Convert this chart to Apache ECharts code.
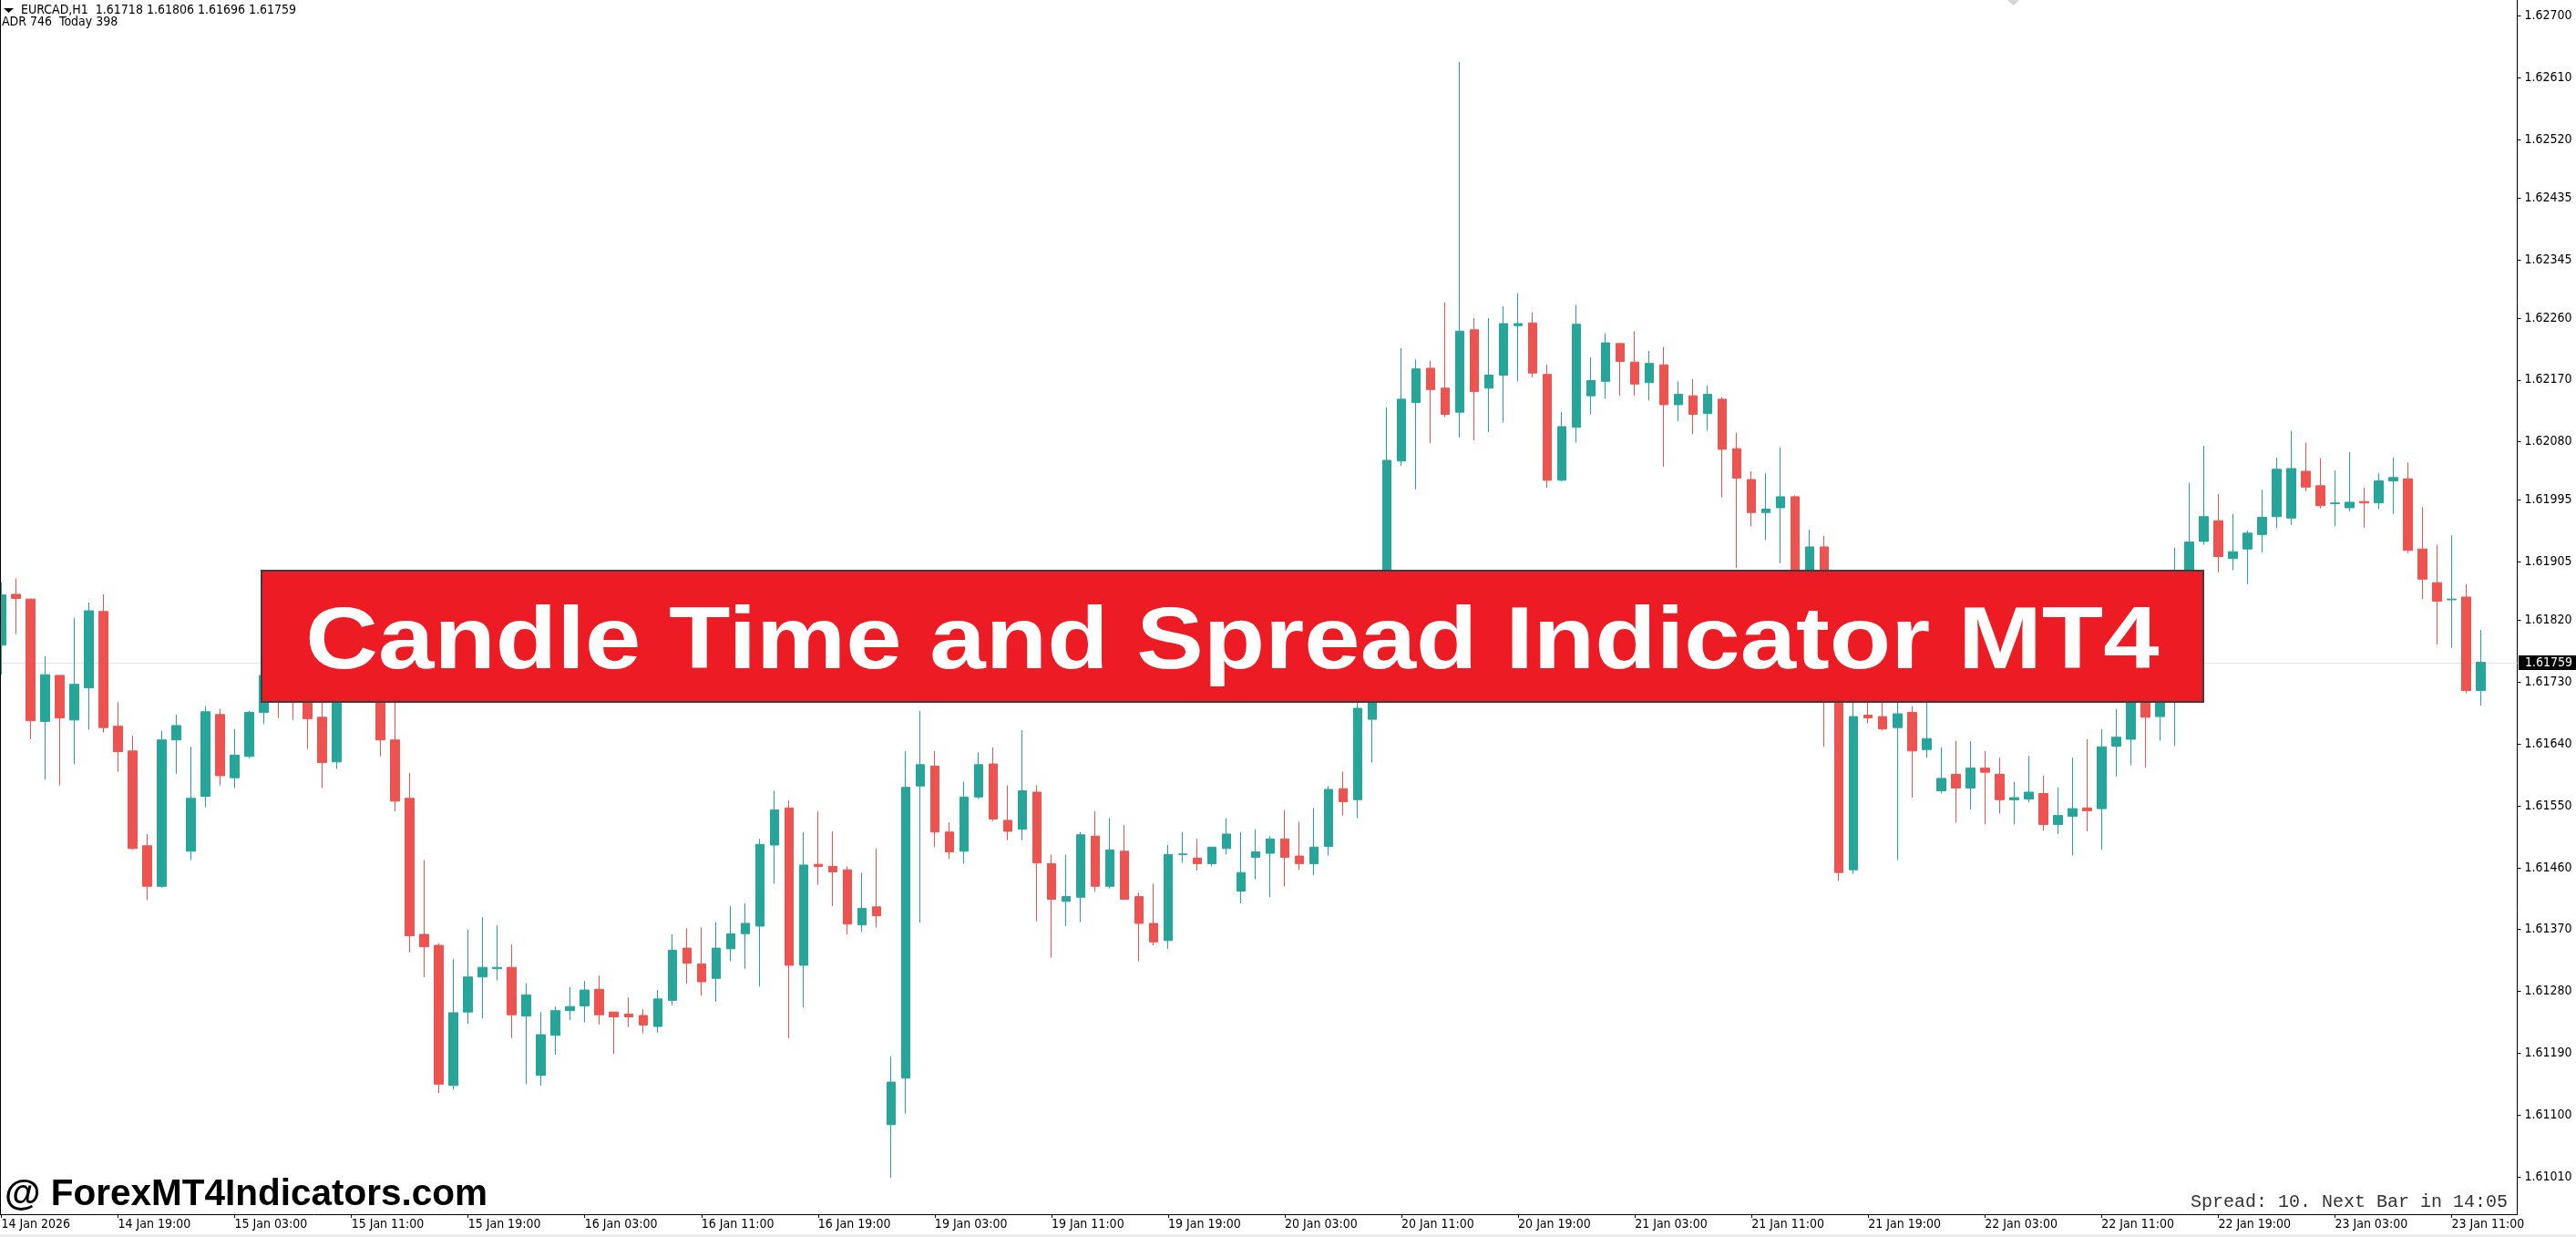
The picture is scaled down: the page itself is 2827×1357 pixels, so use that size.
<!DOCTYPE html>
<html>
<head>
<meta charset="utf-8">
<script src="https://cdn.jsdelivr.net/npm/echarts@6/dist/echarts.min.js"></script>
<style>
html,body{margin:0;padding:0;background:#fff;overflow:hidden}
#c{width:2827px;height:1357px}
</style>
</head>
<body>
<div id="c"></div>
<script>
// ---------------- DATA ----------------
const opens = [
1.61784,1.61858,1.61851,1.61673,1.61740,1.61675,1.61722,1.61833,1.61666,1.61630,
1.61492,1.61433,1.61646,1.61484,1.61564,1.61683,1.61591,1.61622,1.61686,1.61740,
1.61715,1.61712,1.61679,1.61614,1.61760,1.61780,1.61790,1.61646,1.61561,1.61363,
1.61347,1.61143,1.61250,1.61301,1.61313,1.61315,1.61244,1.61158,1.61216,1.61252,
1.61259,1.61283,1.61250,1.61247,1.61245,1.61229,1.61267,1.61343,1.61320,1.61299,
1.61342,1.61364,1.61375,1.61493,1.61547,1.61318,1.61465,1.61462,1.61457,1.61377,
1.61403,1.61086,1.61154,1.61579,1.61608,1.61512,1.61484,1.61563,1.61611,1.61529,
1.61516,1.61570,1.61466,1.61411,1.61417,1.61506,1.61433,1.61484,1.61418,1.61379,
1.61354,1.61479,1.61474,1.61466,1.61488,1.61426,1.61475,1.61481,1.61502,1.61477,
1.61466,1.61491,1.61575,1.61559,1.61676,1.61780,1.62052,1.62137,1.62187,1.62158,
1.62123,1.62243,1.62158,1.62177,1.62249,1.62253,1.62178,1.62024,1.62101,1.62147,
1.62168,1.62223,1.62196,1.62166,1.62192,1.62134,1.62147,1.62121,1.62142,1.62070,
1.62025,1.61977,1.61984,1.62000,1.61850,1.61927,1.61760,1.61457,1.61682,1.61680,
1.61664,1.61686,1.61632,1.61572,1.61596,1.61576,1.61605,1.61596,1.61559,1.61560,
1.61568,1.61523,1.61535,1.61547,1.61546,1.61637,1.61647,1.61740,1.61680,1.61760,
1.61840,1.61935,1.61965,1.61910,1.61924,1.61945,1.61971,1.61969,1.62037,1.62016,
1.61990,1.61984,1.61993,1.61991,1.62023,1.62026,1.61924,1.61875,1.61850,1.61854,
1.61718];
const highs = [
1.61875,1.61881,1.61851,1.61768,1.61740,1.61824,1.61846,1.61858,1.61701,1.61652,
1.61509,1.61659,1.61683,1.61636,1.61695,1.61691,1.61662,1.61688,1.61760,1.61770,
1.61745,1.61730,1.61720,1.61790,1.61810,1.61830,1.61810,1.61712,1.61598,1.61471,
1.61350,1.61327,1.61370,1.61388,1.61376,1.61348,1.61292,1.61250,1.61258,1.61286,
1.61295,1.61303,1.61250,1.61271,1.61254,1.61282,1.61363,1.61372,1.61373,1.61381,
1.61404,1.61408,1.61502,1.61572,1.61558,1.61512,1.61542,1.61513,1.61462,1.61453,
1.61488,1.61185,1.61630,1.61688,1.61630,1.61526,1.61585,1.61628,1.61635,1.61580,
1.61660,1.61580,1.61479,1.61479,1.61512,1.61542,1.61532,1.61522,1.61424,1.61437,
1.61493,1.61512,1.61502,1.61490,1.61532,1.61512,1.61516,1.61506,1.61544,1.61527,
1.61547,1.61579,1.61600,1.61704,1.61800,1.62130,1.62216,1.62200,1.62198,1.62283,
1.62633,1.62260,1.62260,1.62277,1.62296,1.62268,1.62192,1.62123,1.62279,1.62203,
1.62238,1.62223,1.62241,1.62212,1.62218,1.62168,1.62171,1.62162,1.62145,1.62093,
1.62037,1.62034,1.62072,1.62002,1.61952,1.61943,1.61770,1.61710,1.61715,1.61715,
1.61715,1.61695,1.61715,1.61635,1.61645,1.61644,1.61630,1.61620,1.61585,1.61623,
1.61594,1.61577,1.61620,1.61647,1.61662,1.61691,1.61760,1.61770,1.61790,1.61926,
1.62020,1.62074,1.62004,1.61975,1.61951,1.62010,1.62057,1.62096,1.62079,1.62056,
1.62038,1.62065,1.62013,1.62034,1.62057,1.62050,1.61985,1.61930,1.61944,1.61873,
1.61806];
const lows = [
1.61741,1.61800,1.61647,1.61588,1.61580,1.61611,1.61661,1.61657,1.61600,1.61486,
1.61413,1.61431,1.61597,1.61471,1.61548,1.61580,1.61576,1.61619,1.61669,1.61678,
1.61675,1.61633,1.61576,1.61604,1.61705,1.61750,1.61622,1.61542,1.61337,1.61301,
1.61132,1.61137,1.61233,1.61241,1.61296,1.61212,1.61145,1.61143,1.61188,1.61238,
1.61235,1.61232,1.61189,1.61228,1.61219,1.61220,1.61260,1.61291,1.61274,1.61265,
1.61324,1.61313,1.61287,1.61437,1.61212,1.61257,1.61435,1.61404,1.61363,1.61367,
1.61373,1.61009,1.61102,1.61380,1.61490,1.61473,1.61466,1.61560,1.61528,1.61500,
1.61500,1.61382,1.61329,1.61375,1.61381,1.61425,1.61430,1.61414,1.61324,1.61347,
1.61342,1.61467,1.61456,1.61462,1.61479,1.61408,1.61443,1.61417,1.61433,1.61457,
1.61449,1.61478,1.61536,1.61532,1.61613,1.61765,1.62045,1.62011,1.62078,1.62116,
1.62086,1.62082,1.62094,1.62108,1.62168,1.62174,1.62013,1.62022,1.62079,1.62120,
1.62143,1.62147,1.62147,1.62140,1.62044,1.62110,1.62091,1.62096,1.61999,1.61896,
1.61957,1.61937,1.61903,1.61830,1.61840,1.61636,1.61441,1.61451,1.61670,1.61660,
1.61471,1.61562,1.61620,1.61568,1.61526,1.61545,1.61523,1.61539,1.61523,1.61555,
1.61514,1.61509,1.61478,1.61513,1.61486,1.61593,1.61609,1.61606,1.61645,1.61637,
1.61820,1.61930,1.61890,1.61893,1.61873,1.61919,1.61954,1.61959,1.62008,1.61983,
1.61957,1.61979,1.61955,1.61982,1.61975,1.61918,1.61851,1.61785,1.61780,1.61714,
1.61696];
const closes = [
1.61857,1.61852,1.61674,1.61741,1.61678,1.61727,1.61834,1.61664,1.61629,1.61488,
1.61433,1.61646,1.61667,1.61561,1.61687,1.61594,1.61624,1.61686,1.61740,1.61715,
1.61710,1.61677,1.61613,1.61760,1.61780,1.61800,1.61646,1.61557,1.61361,1.61345,
1.61145,1.61249,1.61301,1.61315,1.61315,1.61246,1.61275,1.61217,1.61252,1.61258,
1.61282,1.61246,1.61243,1.61243,1.61231,1.61269,1.61340,1.61321,1.61294,1.61343,
1.61364,1.61379,1.61494,1.61544,1.61318,1.61464,1.61462,1.61454,1.61378,1.61401,
1.61390,1.61148,1.61577,1.61610,1.61512,1.61483,1.61563,1.61610,1.61531,1.61513,
1.61572,1.61467,1.61414,1.61418,1.61508,1.61433,1.61486,1.61414,1.61379,1.61352,
1.61479,1.61480,1.61466,1.61490,1.61509,1.61453,1.61483,1.61502,1.61475,1.61466,
1.61490,1.61574,1.61556,1.61692,1.61780,1.62053,1.62142,1.62186,1.62156,1.62120,
1.62241,1.62153,1.62177,1.62252,1.62252,1.62180,1.62024,1.62102,1.62251,1.62169,
1.62224,1.62197,1.62164,1.62194,1.62134,1.62149,1.62120,1.62149,1.62069,1.62027,
1.61977,1.61982,1.62000,1.61850,1.61927,1.61760,1.61453,1.61680,1.61678,1.61662,
1.61684,1.61630,1.61648,1.61590,1.61576,1.61605,1.61599,1.61559,1.61562,1.61570,
1.61523,1.61536,1.61546,1.61543,1.61636,1.61650,1.61740,1.61679,1.61760,1.61840,
1.61934,1.61971,1.61913,1.61920,1.61947,1.61970,1.62040,1.62041,1.62014,1.61987,
1.61991,1.61992,1.61991,1.62023,1.62028,1.61922,1.61880,1.61848,1.61851,1.61718,
1.61759];

// x-axis tick labels (one every 8 bars)
const xTickLabels = [
'14 Jan 2026','14 Jan 19:00','15 Jan 03:00','15 Jan 11:00','15 Jan 19:00','16 Jan 03:00',
'16 Jan 11:00','16 Jan 19:00','19 Jan 03:00','19 Jan 11:00','19 Jan 19:00','20 Jan 03:00',
'20 Jan 11:00','20 Jan 19:00','21 Jan 03:00','21 Jan 11:00','21 Jan 19:00','22 Jan 03:00',
'22 Jan 11:00','22 Jan 19:00','23 Jan 03:00','23 Jan 11:00'];

// y-axis tick labels
const yTickValues = [1.62700,1.62610,1.62520,1.62435,1.62345,1.62260,1.62170,1.62080,1.61995,1.61905,
1.61820,1.61730,1.61640,1.61550,1.61460,1.61370,1.61280,1.61190,1.61100,1.61010];

const yMin = 1.609557, yMax = 1.62723;
const headerLine1 = 'EURCAD,H1  1.61718 1.61806 1.61696 1.61759';
const headerLine2 = 'ADR 746  Today 398';
const bannerText = 'Candle Time and Spread Indicator MT4';
const watermarkText = '@ ForexMT4Indicators.com';
const spreadText = 'Spread: 10. Next Bar in 14:05';

// ---------------- BUILD ----------------
const months = ['Jan','Feb','Mar','Apr','May','Jun','Jul','Aug','Sep','Oct','Nov','Dec'];
const categories = [];
let t = Date.UTC(2026,0,14,11);
const totalSlots = opens.length + 2;
for (let i = 0; i < totalSlots; i++) {
  const d = new Date(t);
  categories.push(d.getUTCDate()+' '+months[d.getUTCMonth()]+' '+String(d.getUTCHours()).padStart(2,'0')+':00');
  t += 3600000;
  let nd = new Date(t);
  while (nd.getUTCDay() === 6 || nd.getUTCDay() === 0) { t += 3600000; nd = new Date(t); }
}
const candleData = opens.map((o,i)=>[o, closes[i], lows[i], highs[i]]);
const lastClose = closes[closes.length-1];

const AXF = '"DejaVu Sans Condensed","DejaVu Sans",sans-serif';
const UP = '#26a69a', DOWN = '#ef5350';

const chart = echarts.init(document.getElementById('c'), null, {renderer:'canvas'});
chart.setOption({
  animation: false,
  backgroundColor: '#ffffff',
  grid: {left: -6.5, right: 64.5, top: 0, bottom: 25, containLabel: false, outerBoundsMode: 'none'},
  xAxis: {
    type: 'category', data: categories, boundaryGap: true,
    axisLine: {show: true, lineStyle: {color: '#000', width: 1}},
    axisTick: {show: true, interval: 7, alignWithLabel: true, length: 4, lineStyle: {color: '#000'}},
    axisLabel: {
      interval: 7, align: 'left', margin: 4, color: '#000', fontFamily: AXF, fontSize: 14,
      formatter: (v, idx) => (idx % 8 === 0 && xTickLabels[idx/8]) ? xTickLabels[idx/8] : ''
    },
    splitLine: {show: false}
  },
  yAxis: {
    type: 'value', position: 'right', min: yMin, max: yMax, scale: true,
    axisLine: {show: true, onZero: false, lineStyle: {color: '#000', width: 1}},
    axisTick: {show: true, inside: false, length: 4, customValues: yTickValues, lineStyle: {color: '#000'}},
    axisLabel: {customValues: yTickValues, margin: 8, color: '#000', fontFamily: AXF, fontSize: 14,
      formatter: v => v.toFixed(5)},
    splitLine: {show: false}
  },
  series: [{
    type: 'candlestick',
    data: candleData,
    barWidth: 10,
    z: 3,
    itemStyle: {color: UP, color0: DOWN, borderColor: UP, borderColor0: DOWN, borderWidth: 1}
  }]
});

// current price line + label, positioned through the y axis scale
const py = Math.round(chart.convertToPixel({yAxisIndex: 0}, lastClose)) + 0.5;
const plotRight = chart.convertToPixel({xAxisIndex: 0}, categories[categories.length-1]) + 8;

chart.setOption({
  graphic: [
    {type:'line', shape:{x1:0,y1:py,x2:plotRight,y2:py}, style:{stroke:'#e4e4e4', lineWidth:1}, z:1},
    {type:'rect', shape:{x:2764,y:py-8.5,width:63,height:16}, style:{fill:'#000'}, z:50},
    {type:'text', x:2771, y:py, style:{text:lastClose.toFixed(5), fill:'#fff', fontFamily:AXF, fontSize:14,
      textAlign:'left', textVerticalAlign:'middle', align:'left', verticalAlign:'middle'}, z:51},
    {type:'line', shape:{x1:0.5,y1:0,x2:0.5,y2:1332}, style:{stroke:'#000', lineWidth:1}, z:50},
    {type:'rect', shape:{x:0,y:1354,width:2827,height:3}, style:{fill:'#ececec'}, z:50},
    {type:'polygon', shape:{points:[[2203,0],[2216,0],[2209.5,6]]}, style:{fill:'#d4d4d4'}, z:50},
    {type:'polygon', shape:{points:[[4,9],[15,9],[9.5,14]]}, style:{fill:'#000'}, z:50},
    {type:'text', x:23, y:11.5, style:{text:headerLine1, fill:'#000', fontFamily:AXF, fontSize:14,
      textAlign:'left', textVerticalAlign:'middle', align:'left', verticalAlign:'middle'}, z:50},
    {type:'text', x:2, y:24.5, style:{text:headerLine2, fill:'#000', fontFamily:AXF, fontSize:14,
      textAlign:'left', textVerticalAlign:'middle', align:'left', verticalAlign:'middle'}, z:50},
    {type:'text', x:5, y:1311, style:{text:watermarkText, fill:'#000', fontFamily:'"Liberation Sans",Arial,sans-serif',
      fontWeight:'bold', fontSize:40.5, textAlign:'left', textVerticalAlign:'middle', align:'left', verticalAlign:'middle'}, z:50},
    {type:'text', x:2752, y:1319, style:{text:spreadText, fill:'#333', fontFamily:'"Liberation Mono","Courier New",monospace',
      fontSize:20, textAlign:'right', textVerticalAlign:'middle', align:'right', verticalAlign:'middle'}, z:50},
    {type:'rect', shape:{x:287,y:626,width:2131,height:144}, style:{fill:'#ed1c24', stroke:'#3d3d3d', lineWidth:2}, z:100},
    {type:'text', x:1352.5, y:706, scaleX:1.138, scaleY:1,
      style:{text:bannerText, fill:'#fff', fontFamily:'"Liberation Sans",Arial,sans-serif', fontWeight:'bold', fontSize:97,
      textAlign:'center', textVerticalAlign:'middle', align:'center', verticalAlign:'middle'}, z:101}
  ]
});
</script>
</body>
</html>
